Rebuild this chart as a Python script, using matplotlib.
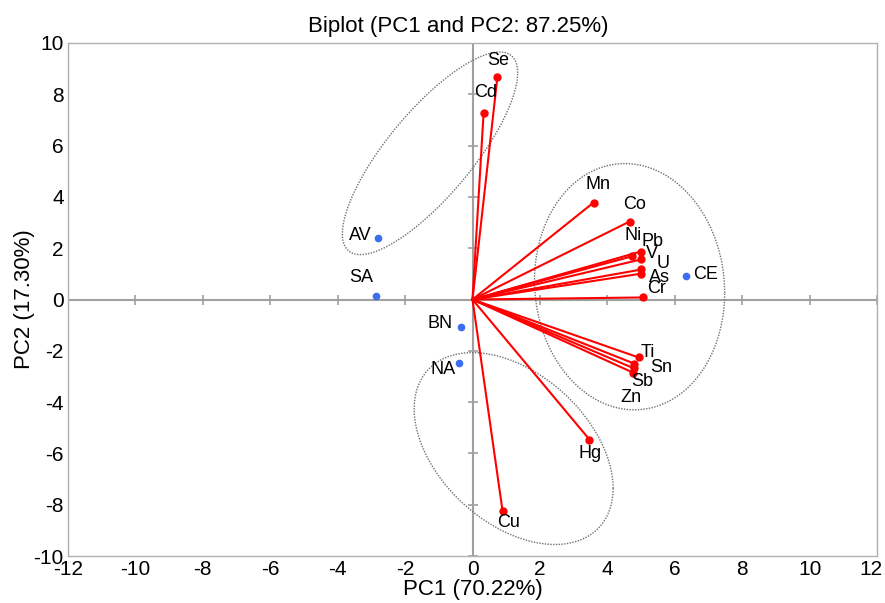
import numpy as np
import matplotlib
matplotlib.use('Agg')
import matplotlib.pyplot as plt
import matplotlib.transforms as mtransforms

plt.rcParams['font.family'] = ['Liberation Sans', 'DejaVu Sans']
plt.rcParams['axes.unicode_minus'] = False

# variable loadings (PC1, PC2)
var_names = ['Se', 'Cd', 'Mn', 'Co', 'Ni', 'Pb', 'V', 'U', 'As', 'Cr',
             'Ti', 'Sn', 'Sb', 'Zn', 'Hg', 'Cu']
var_pc1 = [0.74, 0.33, 3.59, 4.66, 4.72, 4.99, 4.99, 5.01, 5.01, 5.07,
           4.93, 4.80, 4.78, 4.76, 3.47, 0.89]
var_pc2 = [8.69, 7.29, 3.78, 3.04, 1.68, 1.87, 1.56, 1.17, 1.01, 0.08,
           -2.26, -2.50, -2.68, -2.85, -5.46, -8.23]

# observation scores
obs_names = ['AV', 'SA', 'BN', 'NA', 'CE']
obs_pc1 = [-2.79, -2.85, -0.33, -0.39, 6.32]
obs_pc2 = [2.38, 0.12, -1.09, -2.49, 0.90]

# confidence ellipses: center x, center y, half width, half height, correlation
ellipse_cx = [-1.26, 4.66, 1.22]
ellipse_cy = [5.70, 0.50, -5.81]
ellipse_hx = [2.60, 2.82, 2.95]
ellipse_hy = [3.95, 4.80, 3.74]
ellipse_rho = [0.794, -0.05, -0.415]

xticks = list(range(-12, 13, 2))
yticks = list(range(-10, 11, 2))

# label offsets in pixels (dx, dy), y down
var_off = {'Se': (1, -16), 'Cd': (2, -20), 'Mn': (4, -18), 'Co': (5, -17),
           'Ni': (2, -21), 'Pb': (12, -10), 'V': (11, -6), 'U': (22, -6),
           'As': (18, 4), 'Cr': (13, -9), 'Ti': (9, -5), 'Sn': (27, 4),
           'Sb': (9, 13), 'Zn': (-2, 25), 'Hg': (1, 14), 'Cu': (6, 12)}
obs_off = {'AV': (-18, -3), 'SA': (-15, -19), 'BN': (-21, -4),
           'NA': (-16, 6), 'CE': (20, -2)}

fig = plt.figure(figsize=(8.85, 6.03), dpi=100)
ax = fig.add_axes([0.0768, 0.0779, 0.9142, 0.8508])
ax.set_xlim(-12, 12)
ax.set_ylim(-10, 10)

grey = '#a0a0a0'
for s in ax.spines.values():
    s.set_color('#b0b0b0')
    s.set_linewidth(1.0)

# zero lines with small ticks
ax.axhline(0, color=grey, lw=1.5, zorder=1)
ax.axvline(0, color=grey, lw=1.5, zorder=1)
ax.plot(xticks, [0] * len(xticks), ls='none', marker='|', ms=7, mew=1.2,
        color=grey, zorder=1)
ax.plot([0] * len(yticks), yticks, ls='none', marker='_', ms=7, mew=1.2,
        color=grey, zorder=1)

# ellipses
t = np.linspace(0, 2 * np.pi, 300)
for cx, cy, hx, hy, rho in zip(ellipse_cx, ellipse_cy, ellipse_hx, ellipse_hy, ellipse_rho):
    phi = np.arccos(rho)
    ax.plot(cx + hx * np.cos(t), cy + hy * np.cos(t - phi),
            color='#707070', lw=1.0, ls=(0, (1, 1)), zorder=2)

# loading vectors
for x, y in zip(var_pc1, var_pc2):
    ax.plot([0, x], [0, y], color='#ff0000', lw=1.5, zorder=3)
ax.plot(var_pc1, var_pc2, 'o', color='#ff0000', ms=5, zorder=4)
ax.plot(obs_pc1, obs_pc2, 'o', color='#3a6df0', ms=4.5, zorder=4)

for name, x, y in zip(var_names, var_pc1, var_pc2):
    dx, dy = var_off[name]
    ax.annotate(name, (x, y), xytext=(dx * 0.72, -dy * 0.72),
                textcoords='offset points', ha='center', va='center',
                fontsize=13, zorder=5)
for name, x, y in zip(obs_names, obs_pc1, obs_pc2):
    dx, dy = obs_off[name]
    ax.annotate(name, (x, y), xytext=(dx * 0.72, -dy * 0.72),
                textcoords='offset points', ha='center', va='center',
                fontsize=13, zorder=5)

ax.set_xticks(xticks)
ax.set_yticks(yticks)
ax.tick_params(length=0, labelsize=15, pad=3)
ax.set_xlabel('PC1 (70.22%)', fontsize=16, labelpad=0)
ax.set_ylabel('PC2 (17.30%)', fontsize=16, labelpad=-1)
ax.set_title('Biplot (PC1 and PC2: 87.25%)', fontsize=16, pad=8, x=0.483)

# keep the last x tick label inside the figure
last = ax.get_xticklabels()[-1]
last.set_transform(last.get_transform() +
                   mtransforms.ScaledTranslation(-6 / 100, 0, fig.dpi_scale_trans))

fig.savefig('out.png', dpi=100)
